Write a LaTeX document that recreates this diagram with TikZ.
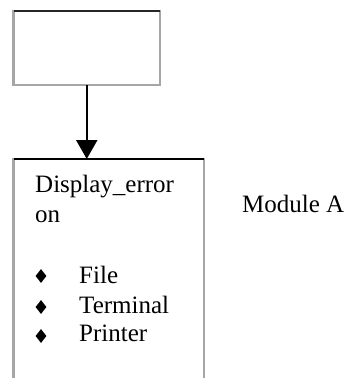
\documentclass[tikz,border=0pt]{standalone}
\usepackage{fontspec}
\setmainfont{Liberation Serif}
\usepackage{tikz}
\usetikzlibrary{shapes.geometric, arrows.meta, positioning}

\begin{document}
\begin{tikzpicture}[x=1pt, y=-1pt]
\tikzstyle{box} = [rectangle, draw=gray!70, line width=2.2pt, inner sep=0pt, outer sep=0pt]
\tikzstyle{label} = [anchor=base west, inner sep=0pt, font=\fontsize{25}{30}\selectfont]
\tikzstyle{bullet} = [diamond, fill=black, minimum width=11pt, minimum height=14pt, inner sep=0pt]
\tikzstyle{arrow} = [line width=2.2pt, -{Triangle[length=19pt, width=21pt]}]

\clip (0,0) rectangle (350,378);
\fill[white] (0,0) rectangle (350,378);

\node (caller) [box, minimum width=146.5pt, minimum height=74pt] at (86.75,48) {};
\draw [line width=2.2pt, black!85] (caller.north west) -- (caller.north east);

% module box runs off the bottom of the page
\node (modA) [box, minimum width=190.5pt, minimum height=241pt] at (108.75,279.5) {};
\draw [line width=2.2pt, black] (modA.north west) -- (modA.north east);

\draw [arrow] (caller.south) -- (modA.north -| caller.south);

\node (name1) [label] at (35,192) {Display\_error};
\node (name2) [label] at (35,222) {on};

\node (b1) [bullet] at (41,276) {};
\node (b2) [bullet] at (41,307) {};
\node (b3) [bullet] at (41,336) {};
\node (file) [label] at (79,283) {File};
\node (term) [label] at (79,313) {Terminal};
\node (prn) [label] at (79,341) {Printer};

\node (title) [label] at (242,212) {Module A};

\end{tikzpicture}
\end{document}
